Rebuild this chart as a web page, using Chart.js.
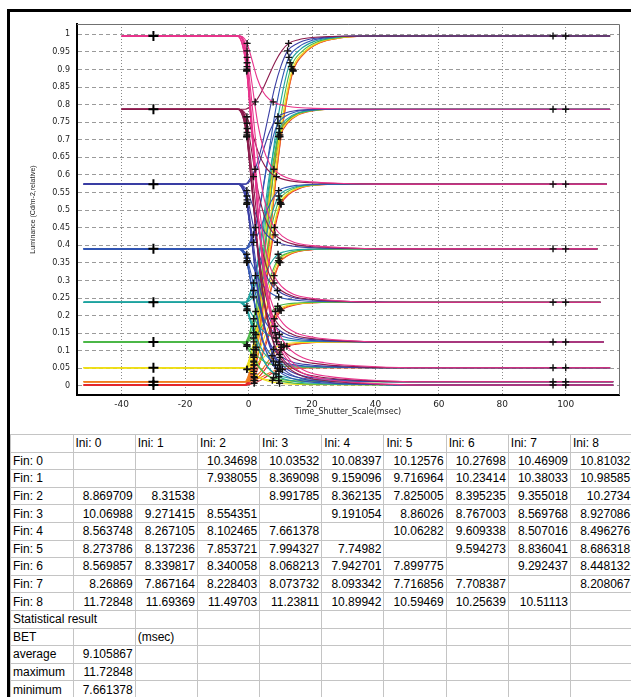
<!DOCTYPE html>
<html><head><meta charset="utf-8">
<script src="https://cdn.jsdelivr.net/npm/chart.js@4.4.1/dist/chart.umd.min.js"></script>
<style>
html,body{margin:0;padding:0;background:#fff;width:631px;height:697px;overflow:hidden;position:relative;}
#wrap{position:absolute;left:0;top:0;width:631px;height:430px;}
#frameTop{position:absolute;left:7px;top:9px;width:624px;height:3px;background:#000;z-index:5;}
#frameLeft{position:absolute;left:7px;top:9px;width:3px;height:688px;background:#000;z-index:5;}
#tbl{position:absolute;left:10px;top:434px;border-collapse:collapse;table-layout:fixed;width:622.3px;font:12px "Liberation Sans",Arial,sans-serif;color:#000;}
#tbl td{border:1px solid #c4c4c4;padding:0 2px;white-space:nowrap;overflow:hidden;line-height:14px;height:16.6px;}
#tbl td.n{text-align:right;}
#tbl td.t{text-align:left;overflow:visible;}
</style></head>
<body>
<div id="wrap"><canvas id="c" width="631" height="430"></canvas></div>
<div id="frameTop"></div><div id="frameLeft"></div>
<table id="tbl"></table>
<script>
// ---- data ----
const levels = [0.003, 0.012, 0.052, 0.125, 0.238, 0.390, 0.574, 0.787, 0.995];
const levelColors = ['#e4262c','#f07d1e','#efdf16','#4cb848','#1ea3a0','#3256b4','#3a3ea4','#8c1a4c','#e8348c'];
const startTimes = [-52,-52,-52,-52,-52,-52,-52,-40,-40];
const endTimes = [115,115,114,112,111,110,113,114,114];
const iniLabels = ['Ini: 0','Ini: 1','Ini: 2','Ini: 3','Ini: 4','Ini: 5','Ini: 6','Ini: 7','Ini: 8'];
const finLabels = ['Fin: 0','Fin: 1','Fin: 2','Fin: 3','Fin: 4','Fin: 5','Fin: 6','Fin: 7','Fin: 8'];
// BET (msec), rows = Fin, columns = Ini
const betFin0 = [null, null, 10.34698, 10.03532, 10.08397, 10.12576, 10.27698, 10.46909, 10.81032];
const betFin1 = [null, null, 7.938055, 8.369098, 9.159096, 9.716964, 10.23414, 10.38033, 10.98585];
const betFin2 = [8.869709, 8.31538, null, 8.991785, 8.362135, 7.825005, 8.395235, 9.355018, 10.2734];
const betFin3 = [10.06988, 9.271415, 8.554351, null, 9.191054, 8.86026, 8.767003, 8.569768, 8.927086];
const betFin4 = [8.563748, 8.267105, 8.102465, 7.661378, null, 10.06282, 9.609338, 8.507016, 8.496276];
const betFin5 = [8.273786, 8.137236, 7.853721, 7.994327, 7.74982, null, 9.594273, 8.836041, 8.686318];
const betFin6 = [8.569857, 8.339817, 8.340058, 8.068213, 7.942701, 7.899775, null, 9.292437, 8.448132];
const betFin7 = [8.26869, 7.867164, 8.228403, 8.073732, 8.093342, 7.716856, 7.708387, null, 8.208067];
const betFin8 = [11.72848, 11.69369, 11.49703, 11.23811, 10.89942, 10.59469, 10.25639, 10.51113, null];
const statLabels = ['average','maximum','minimum'];
const statValues = ['9.105867','11.72848','7.661378'];
// transition shapes (time in ms, fraction of the step done)
const fallTimes = [-3, -1.5, -0.5, 1, 3, 5, 7, 8.5, 11, 15, 21, 30, 45];
const fallFrac  = [0, 0.03, 0.1, 0.3, 0.58, 0.76, 0.86, 0.9, 0.94, 0.97, 0.985, 0.994, 1];
const riseTimes = [-1, 0, 1, 2, 4, 6, 8, 10, 12, 15, 19, 25, 35];
const riseFrac  = [0, 0.02, 0.06, 0.1, 0.25, 0.45, 0.65, 0.8, 0.9, 0.95, 0.98, 0.995, 1];
const holdMarkTime = -30;
const settleMarkTimes = [96, 100];

const betTable = [betFin0,betFin1,betFin2,betFin3,betFin4,betFin5,betFin6,betFin7,betFin8];

// ---- build datasets ----
const curves = [];
const transMarks = [];
for (let fin = 0; fin < 9; fin++) {
  for (let ini = 0; ini < 9; ini++) {
    const b = betTable[fin][ini];
    if (b == null) continue;
    const falling = levels[fin] < levels[ini];
    const T = falling ? fallTimes : riseTimes;
    const F = falling ? fallFrac : riseFrac;
    const gap = falling ? 9 : 10;
    const mk = falling ? [2, 7] : [3, 8];
    const s = b / gap;
    const pts = [{x: startTimes[ini], y: levels[ini]}];
    T.forEach((t, k) => pts.push({x: t * s, y: levels[ini] + (levels[fin] - levels[ini]) * F[k]}));
    pts.push({x: endTimes[fin], y: levels[fin]});
    mk.forEach(k => transMarks.push(pts[k + 1]));
    curves.push({ini, ds: {
      data: pts, borderColor: levelColors[ini], borderWidth: 1.1,
      pointRadius: 0, fill: false, cubicInterpolationMode: 'monotone'
    }});
  }
}
curves.sort((a, b) => b.ini - a.ini);
const levelMarks = levels.map(v => ({x: holdMarkTime, y: v}));
const settleMarks = [];
levels.forEach(v => settleMarkTimes.forEach(t => settleMarks.push({x: t, y: v})));

const datasets = [
  {data: levelMarks, showLine: false, pointStyle: 'cross', pointRadius: 5, pointBorderWidth: 2, borderColor: '#000', backgroundColor: '#000'},
  {data: settleMarks.concat(transMarks), showLine: false, pointStyle: 'cross', pointRadius: 3.5, pointBorderWidth: 1.4, borderColor: '#111', backgroundColor: '#111'}
].concat(curves.map(c => c.ds));

const lsPlugin = {
  id: 'ls',
  beforeDraw(chart) {
    const sp = {x: '1.5px', y: '0px'};
    for (const id of ['x', 'y']) {
      const sc = chart.scales[id];
      if (sc && !sc._lsWrapped) {
        const orig = sc.draw.bind(sc);
        sc.draw = function (area) {
          const c = chart.ctx; const prev = c.letterSpacing;
          c.letterSpacing = sp[id]; orig(area); c.letterSpacing = prev || '0px';
        };
        sc._lsWrapped = true;
      }
    }
  },
  afterDraw(chart) {
    const {ctx, chartArea: a} = chart;
    ctx.save();
    ctx.strokeStyle = '#707070'; ctx.lineWidth = 1;
    ctx.beginPath();
    ctx.moveTo(a.left, a.top + 0.5); ctx.lineTo(a.right + 0.5, a.top + 0.5); ctx.lineTo(a.right + 0.5, a.bottom);
    ctx.stroke();
    ctx.restore();
  }
};

new Chart(document.getElementById('c'), {
  type: 'line',
  data: {datasets},
  plugins: [lsPlugin],
  options: {
    responsive: false, animation: false, devicePixelRatio: 1,
    layout: {padding: {left: 29, right: 12, top: 24, bottom: 13}},
    plugins: {legend: {display: false}, tooltip: {enabled: false}},
    scales: {
      x: {
        type: 'linear', min: -54.1, max: 116.8,
        afterFit(s) { s.height = 22; },
        ticks: {stepSize: 20, includeBounds: false, padding: 4, color: '#222', maxRotation: 0,
                font: {family: 'DejaVu Sans', size: 9}},
        grid: {color: '#8a8a8a', lineWidth: 1, drawTicks: false},
        border: {display: true, color: '#000', width: 2, dash: [1, 2]},
        title: {display: true, text: 'Time_Shutter_Scale(msec)', color: '#222', padding: 0,
                font: {family: 'DejaVu Sans', size: 8}}
      },
      y: {
        type: 'linear', min: -0.0256, max: 1.0293,
        afterFit(s) { s.width = 48; },
        ticks: {stepSize: 0.05, includeBounds: false, padding: 7, color: '#222',
                font: {family: 'DejaVu Sans', size: 8},
                callback: v => String(parseFloat(v.toFixed(2)))},
        grid: {color: '#9a9a9a', lineWidth: 1, drawTicks: false},
        border: {display: true, color: '#000', width: 2, dash: [4, 3]},
        title: {display: true, text: 'Luminance (Cd/m-2,relative)', color: '#222', padding: 0,
                font: {family: 'Liberation Sans', size: 7}}
      }
    }
  }
});

// ---- table ----
const tbl = document.getElementById('tbl');
const colW = [62.5, 62.2, 62.2, 62.2, 62.2, 62.2, 62.2, 62.2, 62.2, 62.2];
let html = '<colgroup>' + colW.map(w => '<col style="width:' + w + 'px">').join('') + '</colgroup>';
const row = cells => '<tr style="height:17.6px">' + cells.join('') + '</tr>';
html += row(['<td class="t"></td>'].concat(iniLabels.map(l => '<td class="t">' + l + '</td>')));
finLabels.forEach((f, r) => {
  html += row(['<td class="t">' + f + '</td>'].concat(betTable[r].map(v => '<td class="n">' + (v == null ? '' : String(v)) + '</td>')));
});
const empties = n => Array.from({length: n}, () => '<td></td>');
html += row(['<td class="t" colspan="2">Statistical result</td>'].concat(empties(8)));
html += row(['<td class="t">BET</td>', '<td></td>', '<td class="t">(msec)</td>'].concat(empties(7)));
statLabels.forEach((l, i) => {
  html += row(['<td class="t">' + l + '</td>', '<td class="n">' + statValues[i] + '</td>'].concat(empties(8)));
});
tbl.innerHTML = html;
</script>
</body></html>
